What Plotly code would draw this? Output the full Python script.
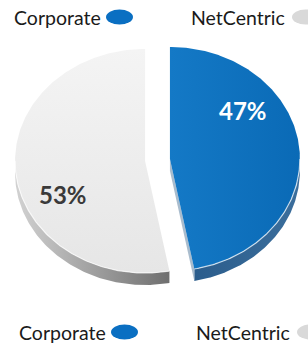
import numpy as np
import plotly.graph_objects as go

labels = ["Corporate", "NetCentric"]
values = [47, 53]

face_colors = [["#1479c6", "#0a6ab6"], ["#e6e6e6", "#f4f4f4"]]
side_colors = [["#2b5d8c", "#3b6e9c"], ["#d2d2d2", "#6f6f6f"]]
legend_colors = ["#0a6fc2", "#d9d9d9"]
label_colors = ["#ffffff", "#3a3a3a"]

W, H = 308, 347
cx, cy = 157.5, 160.0
rx, ry = 130.0, 112.0
pull = 12.5
thick = 12.0

fig = go.Figure()

total = float(sum(values))
start = 0.0
slices = []
for i, v in enumerate(values):
    a0 = start
    a1 = start + v / total * 2 * np.pi
    start = a1
    mid = (a0 + a1) / 2
    ox = cx + pull * np.sin(mid)
    oy = cy - pull * np.cos(mid) * ry / rx
    slices.append((a0, a1, mid, ox, oy))


def pt(ox, oy, a, dy=0.0):
    return ox + rx * np.sin(a), oy - ry * np.cos(a) + dy


# sides (extrusion)
for i, (a0, a1, mid, ox, oy) in enumerate(slices):
    lo = max(a0, np.pi / 2)
    hi = min(a1, 3 * np.pi / 2)
    if hi > lo:
        angs = np.linspace(lo, hi, 120)
        xs_top = [pt(ox, oy, a)[0] for a in angs]
        ys_top = [pt(ox, oy, a)[1] for a in angs]
        xs_bot = [pt(ox, oy, a, thick)[0] for a in angs[::-1]]
        ys_bot = [pt(ox, oy, a, thick)[1] for a in angs[::-1]]
        fig.add_trace(go.Scatter(
            x=xs_top + xs_bot + [xs_top[0]],
            y=ys_top + ys_bot + [ys_top[0]],
            mode="lines", fill="toself", line=dict(width=0),
            fillgradient=dict(type="horizontal",
                              colorscale=[[0, side_colors[i][0]], [1, side_colors[i][1]]]),
            hoverinfo="skip", showlegend=False))
    # wall on the clockwise-end radial edge when it faces the viewer
    if np.pi / 2 < a1 < np.pi:
        px, py = pt(ox, oy, a1)
        fig.add_trace(go.Scatter(
            x=[ox, px, px, ox, ox],
            y=[oy, py, py + thick, oy + thick, oy],
            mode="lines", fill="toself", line=dict(width=0),
            fillcolor="#a9bccd", hoverinfo="skip", showlegend=False))

# top faces
for i, (a0, a1, mid, ox, oy) in enumerate(slices):
    angs = np.linspace(a0, a1, 240)
    xs = [ox] + [pt(ox, oy, a)[0] for a in angs] + [ox]
    ys = [oy] + [pt(ox, oy, a)[1] for a in angs] + [oy]
    fig.add_trace(go.Scatter(
        x=xs, y=ys, mode="lines", fill="toself", line=dict(width=0),
        fillgradient=dict(type="vertical" if i == 1 else "horizontal",
                          colorscale=[[0, face_colors[i][0]], [1, face_colors[i][1]]]),
        hoverinfo="skip", showlegend=False))
    lo = max(a0, np.pi / 2)
    hi = min(a1, 3 * np.pi / 2)
    if hi > lo:
        ra = np.linspace(lo, hi, 120)
        fig.add_trace(go.Scatter(
            x=[pt(ox, oy, a)[0] for a in ra], y=[pt(ox, oy, a)[1] for a in ra],
            mode="lines", line=dict(width=1.2, color="rgba(255,255,255,0.7)"),
            hoverinfo="skip", showlegend=False))

# percentage labels
label_r = [0.71, 0.70]
label_shift = [-0.56, -0.34]
for i, (a0, a1, mid, ox, oy) in enumerate(slices):
    ang = mid + label_shift[i]
    lx = ox + label_r[i] * rx * np.sin(ang)
    ly = oy - label_r[i] * ry * np.cos(ang)
    fig.add_annotation(x=lx, y=ly, text="<b>%d%%</b>" % round(values[i] / total * 100),
                       showarrow=False, xanchor="center", yanchor="middle",
                       font=dict(family="Lato", size=24, color=label_colors[i]))

# legends (top and bottom): text followed by an ellipse marker
legend_rows = [(12, 17), (17, 332)]
legend_spacing = 177
for lx0, ly in legend_rows:
    for i, lab in enumerate(labels):
        x0 = lx0 + i * legend_spacing
        fig.add_annotation(x=x0, y=ly, text=lab, showarrow=False,
                           xanchor="left", yanchor="middle",
                           font=dict(family="Lato", size=19.5, color="#1a1a1a"))
        ex = x0 + (94 if i == 0 else 103)
        fig.add_shape(type="circle", xref="x", yref="y",
                      x0=ex, x1=ex + 27, y0=ly - 7.5, y1=ly + 7.5,
                      fillcolor=legend_colors[i], line=dict(width=0))

fig.update_layout(
    width=W, height=H,
    margin=dict(l=0, r=0, t=0, b=0),
    paper_bgcolor="white", plot_bgcolor="white",
    showlegend=False,
    xaxis=dict(range=[0, W], visible=False, fixedrange=True),
    yaxis=dict(range=[H, 0], visible=False, fixedrange=True),
)

fig.write_html("out.html", config={"displayModeBar": False},
               post_script="document.body.style.margin='0';document.body.style.overflow='hidden';")
